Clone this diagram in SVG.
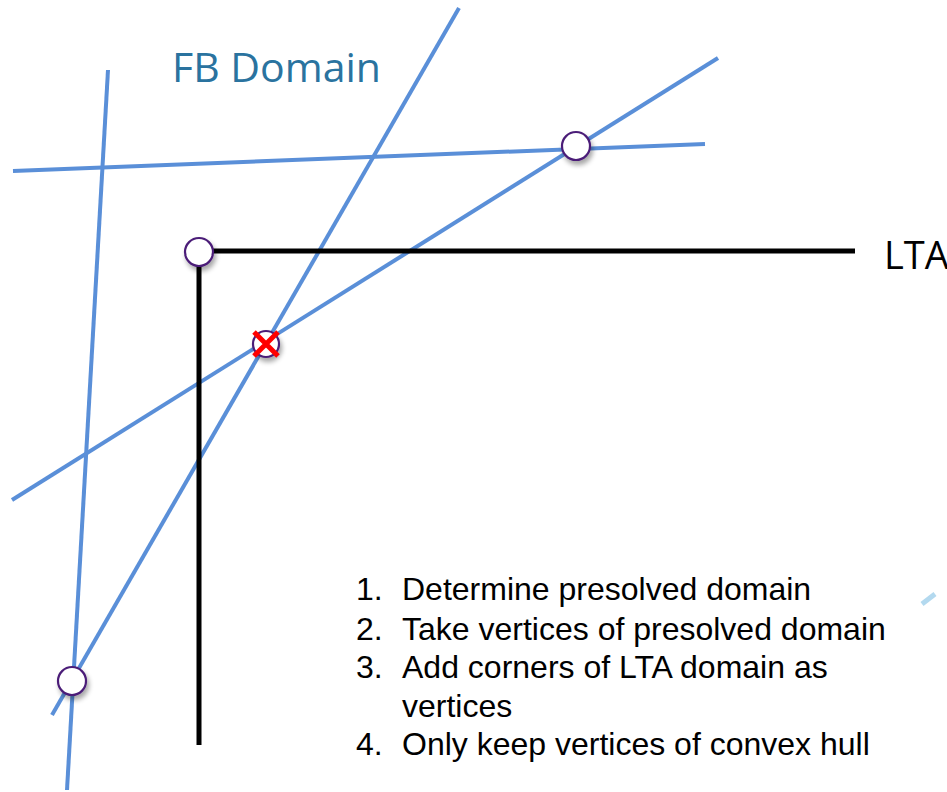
<svg xmlns="http://www.w3.org/2000/svg" width="947" height="792" viewBox="0 0 947 792">
  <style>
    .fb { stroke: #5a8fd8; stroke-width: 4; fill: none; stroke-linecap: butt; }
    .lta { stroke: #000; stroke-width: 5; fill: none; }
    .vtx { fill: #fff; stroke: #4b1f78; stroke-width: 2.2; filter: url(#shadow); }
    .steps { font-family: "Liberation Sans", Arial, sans-serif; font-size: 32px; fill: #000; }
  </style>
  <defs>
    <filter id="shadow" x="-50%" y="-50%" width="200%" height="200%">
      <feGaussianBlur in="SourceAlpha" stdDeviation="2.5"/>
      <feOffset dx="2" dy="4" result="b"/>
      <feComponentTransfer><feFuncA type="linear" slope="0.35"/></feComponentTransfer>
      <feMerge><feMergeNode/><feMergeNode in="SourceGraphic"/></feMerge>
    </filter>
  </defs>
  <rect width="947" height="792" fill="#fff"/>

  <!-- FB domain constraint lines -->
  <g id="fb-lines">
    <line class="fb" x1="108" y1="70" x2="67" y2="790"/>
    <line class="fb" x1="459" y1="8" x2="52" y2="715"/>
    <line class="fb" x1="718" y1="58" x2="12" y2="500"/>
    <line class="fb" x1="13" y1="171" x2="705" y2="144"/>
  </g>

  <!-- LTA domain boundary -->
  <g id="lta-bounds">
    <polyline class="lta" points="855,251 199,251 199,745"/>
  </g>

  <g id="label-fb">
    <text x="172" y="82" font-family="'Open Sans', 'Liberation Sans', sans-serif" font-size="41" fill="#2a739f">FB Domain</text>
  </g>
  <g id="label-lta">
    <text x="884" y="269" font-family="'Open Sans', 'Liberation Sans', sans-serif" font-size="38" fill="#000">LTA</text>
  </g>

  <!-- vertices -->
  <g id="v-top"><circle class="vtx" cx="576" cy="146" r="14"/></g>
  <g id="v-corner"><circle class="vtx" cx="199" cy="252" r="14"/></g>
  <g id="v-removed">
    <circle class="vtx" cx="266" cy="344" r="13"/>
    <path d="M254,332 L278,356 M278,332 L254,356" stroke="#ff0000" stroke-width="5" fill="none"/>
  </g>
  <g id="v-bottom"><circle class="vtx" cx="72" cy="681" r="14"/></g>

  <!-- steps -->
  <g id="steps" class="steps">
    <text x="356" y="600">1.</text><text x="402" y="600">Determine presolved domain</text>
    <text x="356" y="640">2.</text><text x="402" y="640">Take vertices of presolved domain</text>
    <text x="356" y="678">3.</text><text x="402" y="678">Add corners of LTA domain as</text>
    <text x="402" y="717">vertices</text>
    <text x="356" y="755">4.</text><text x="402" y="755">Only keep vertices of convex hull</text>
  </g>

  <line x1="922" y1="604" x2="935" y2="594" stroke="#b3d9ef" stroke-width="5"/>
</svg>
